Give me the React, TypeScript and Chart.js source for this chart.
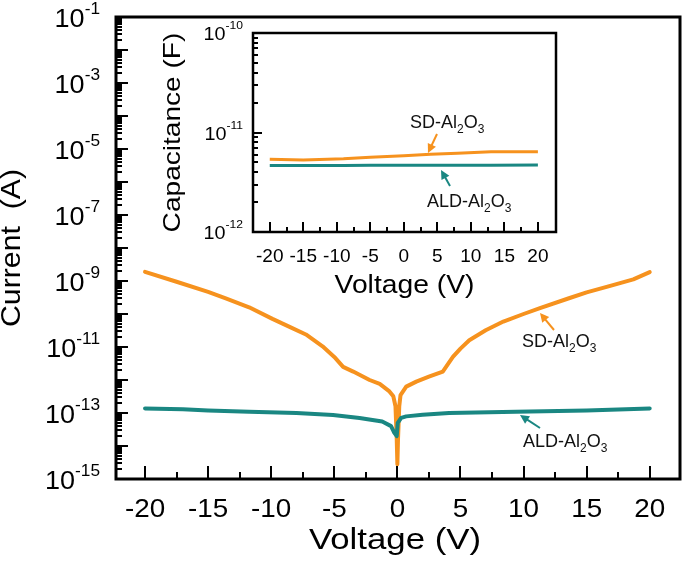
import React, { useEffect, useRef } from "react";
import { Chart, registerables } from "chart.js";

Chart.register(...registerables);

const ORANGE = "#F6921E";
const TEAL = "#1A8782";
const FONT = '"Liberation Sans", Arial, sans-serif';

// Main I–V data
const sdVoltage = [-20, -17.5, -15, -13.6, -11.75, -9.9, -8.5, -7.25, -5.93, -5, -4.3, -3.5, -2.2, -1.4, -0.63, -0.32, -0.15, -0.05, 0, 0.05, 0.15, 0.25, 0.7, 1.5, 2.5, 3.6, 4.4, 5.0, 5.7, 7, 8.4, 10, 11.3, 13.6, 15, 16.8, 18.7, 20];
const sdCurrent = [1.9e-9, 9.5e-10, 4.7e-10, 3.0e-10, 1.6e-10, 7.1e-11, 4.0e-11, 2.4e-11, 1.05e-11, 5.0e-12, 2.5e-12, 1.8e-12, 1.0e-12, 7.6e-13, 4.5e-13, 3.2e-13, 1.6e-13, 1.6e-14, 2.8e-15, 1.6e-14, 1.6e-13, 3.5e-13, 6.3e-13, 8.9e-13, 1.26e-12, 1.8e-12, 5.0e-12, 8.9e-12, 1.6e-11, 3.2e-11, 5.9e-11, 1.0e-10, 1.5e-10, 3.0e-10, 4.5e-10, 7.0e-10, 1.12e-9, 1.86e-9];
const aldVoltage = [-20, -17, -15, -11.75, -8, -5.1, -3, -1.2, -0.5, -0.24, -0.05, 0.03, 0.3, 0.7, 2, 4.1, 9.4, 15, 20];
const aldCurrent = [1.38e-13, 1.3e-13, 1.2e-13, 1.1e-13, 1.0e-13, 8.7e-14, 7.1e-14, 5.5e-14, 4.0e-14, 2.5e-14, 2.0e-14, 5.0e-14, 7.1e-14, 7.9e-14, 8.9e-14, 1.0e-13, 1.1e-13, 1.2e-13, 1.38e-13];

// Inset C–V data
const capVoltage = [-20, -15, -9, -5, 0, 4, 8, 13, 20];
const sdCap = [5.38e-12, 5.3e-12, 5.46e-12, 5.65e-12, 5.85e-12, 6.04e-12, 6.2e-12, 6.41e-12, 6.41e-12];
const aldCap = [4.66e-12, 4.66e-12, 4.67e-12, 4.68e-12, 4.68e-12, 4.69e-12, 4.7e-12, 4.7e-12, 4.71e-12];

const voltageTicks = [-20, -15, -10, -5, 0, 5, 10, 15, 20];
const currentLabelExp = [-15, -13, -11, -9, -7, -5, -3, -1];
const capLabelExp = [-12, -11, -10];

function txt(ctx: CanvasRenderingContext2D, s: string, x: number, y: number, size: number, align: string, stretch = 1) {
  ctx.save();
  ctx.font = `${size}px ${FONT}`;
  ctx.textBaseline = "alphabetic";
  ctx.textAlign = "left";
  const w = ctx.measureText(s).width * stretch;
  const x0 = align === "left" ? x : align === "center" ? x - w / 2 : x - w;
  ctx.translate(x0, y);
  ctx.scale(stretch, 1);
  ctx.fillText(s, 0, 0);
  ctx.restore();
  return w;
}

function width(ctx: CanvasRenderingContext2D, s: string, size: number, stretch = 1) {
  ctx.save();
  ctx.font = `${size}px ${FONT}`;
  const w = ctx.measureText(s).width * stretch;
  ctx.restore();
  return w;
}

function pow10(ctx: CanvasRenderingContext2D, exp: number, xRight: number, yTick: number, base: number, sup: number, baseDy: number, supRaise: number, stretch: number) {
  const s = String(exp);
  const ws = width(ctx, s, sup, stretch);
  const wb = width(ctx, "10", base, stretch);
  const bl = yTick + baseDy;
  txt(ctx, "10", xRight - ws - wb, bl, base, "left", stretch);
  txt(ctx, s, xRight - ws, bl - supRaise, sup, "left", stretch);
}

function rotTxt(ctx: CanvasRenderingContext2D, s: string, xBase: number, yCenter: number, size: number, stretch: number) {
  ctx.save();
  ctx.translate(xBase, yCenter);
  ctx.rotate(-Math.PI / 2);
  txt(ctx, s, 0, 0, size, "center", stretch);
  ctx.restore();
}

function chem(ctx: CanvasRenderingContext2D, prefix: string, x: number, bl: number, size: number, sub: number) {
  let cx = x;
  cx += txt(ctx, prefix + "Al", cx, bl, size, "left");
  cx += txt(ctx, "2", cx, bl + 5, sub, "left");
  cx += txt(ctx, "O", cx, bl, size, "left");
  txt(ctx, "3", cx, bl + 5, sub, "left");
}

function arrow(ctx: CanvasRenderingContext2D, x1: number, y1: number, x2: number, y2: number, color: string) {
  const ang = Math.atan2(y2 - y1, x2 - x1);
  const hl = 9, hw = 4.5;
  ctx.save();
  ctx.strokeStyle = color;
  ctx.fillStyle = color;
  ctx.lineWidth = 2;
  ctx.beginPath();
  ctx.moveTo(x1, y1);
  ctx.lineTo(x2 - hl * 0.8 * Math.cos(ang), y2 - hl * 0.8 * Math.sin(ang));
  ctx.stroke();
  ctx.beginPath();
  ctx.moveTo(x2, y2);
  ctx.lineTo(x2 - hl * Math.cos(ang) + hw * Math.sin(ang), y2 - hl * Math.sin(ang) - hw * Math.cos(ang));
  ctx.lineTo(x2 - hl * Math.cos(ang) - hw * Math.sin(ang), y2 - hl * Math.sin(ang) + hw * Math.cos(ang));
  ctx.closePath();
  ctx.fill();
  ctx.restore();
}

function drawFrame(chart: any, o: { lw: number; tw: number; yMaj: number; yMin: number; xMaj: number; xMin: number; expLo: number; expHi: number }) {
  const ctx: CanvasRenderingContext2D = chart.ctx;
  const { left, right, top, bottom } = chart.chartArea;
  const xs = chart.scales.x;
  const ys = chart.scales.y;
  ctx.save();
  ctx.strokeStyle = "#000";
  ctx.lineWidth = o.tw;
  ctx.beginPath();
  for (let e = o.expLo; e <= o.expHi; e++) {
    const y = Math.round(ys.getPixelForValue(Math.pow(10, e)));
    ctx.moveTo(left, y);
    ctx.lineTo(left + o.yMaj, y);
    if (e < o.expHi) {
      for (let m = 2; m <= 9; m++) {
        const ym = Math.round(ys.getPixelForValue(m * Math.pow(10, e)));
        ctx.moveTo(left, ym);
        ctx.lineTo(left + o.yMin, ym);
      }
    }
  }
  voltageTicks.forEach((v) => {
    const x = Math.round(xs.getPixelForValue(v));
    ctx.moveTo(x, bottom);
    ctx.lineTo(x, bottom - o.xMaj);
    if (v < 20) {
      const xm = Math.round(xs.getPixelForValue(v + 2.5));
      ctx.moveTo(xm, bottom);
      ctx.lineTo(xm, bottom - o.xMin);
    }
  });
  ctx.stroke();
  ctx.lineWidth = o.lw;
  ctx.strokeRect(left, top, right - left, bottom - top);
  ctx.restore();
}

const mainDecor = {
  id: "mainDecor",
  afterDraw(chart: any) {
    const ctx: CanvasRenderingContext2D = chart.ctx;
    const xs = chart.scales.x;
    const ys = chart.scales.y;
    const { left, right, bottom } = chart.chartArea;
    drawFrame(chart, { lw: 3, tw: 2, yMaj: 12, yMin: 6, xMaj: 13, xMin: 7, expLo: -15, expHi: -1 });
    ctx.save();
    ctx.fillStyle = "#000";
    currentLabelExp.forEach((e) => {
      pow10(ctx, e, 100, ys.getPixelForValue(Math.pow(10, e)), 25, 16, 10, 13, 1.08);
    });
    voltageTicks.forEach((v) => {
      txt(ctx, String(v), xs.getPixelForValue(v), bottom + 38, 26, "center", 1.07);
    });
    txt(ctx, "Voltage (V)", (left + right) / 2 - 3, bottom + 70, 29, "center", 1.2);
    rotTxt(ctx, "Current  (A)", 20, (chart.chartArea.top + bottom) / 2, 28, 1.08);
    ctx.fillStyle = "#111";
    chem(ctx, "SD-", 522, 347, 18, 12);
    chem(ctx, "ALD-", 523, 447, 18, 12);
    ctx.restore();
    arrow(ctx, 554, 330, 540, 313, ORANGE);
    arrow(ctx, 540, 428, 520, 415, TEAL);
  },
};

const insetDecor = {
  id: "insetDecor",
  afterDraw(chart: any) {
    const ctx: CanvasRenderingContext2D = chart.ctx;
    const xs = chart.scales.x;
    const ys = chart.scales.y;
    const { left, right, bottom, top } = chart.chartArea;
    drawFrame(chart, { lw: 2.5, tw: 2, yMaj: 9, yMin: 5, xMaj: 10, xMin: 5, expLo: -12, expHi: -10 });
    ctx.save();
    ctx.fillStyle = "#000";
    capLabelExp.forEach((e) => {
      pow10(ctx, e, 243, ys.getPixelForValue(Math.pow(10, e)), 18, 11, 7, 11, 1.1);
    });
    voltageTicks.forEach((v) => {
      txt(ctx, String(v), xs.getPixelForValue(v), bottom + 30, 19, "center", 1.0);
    });
    txt(ctx, "Voltage (V)", (left + right) / 2, bottom + 61, 25, "center", 1.13);
    rotTxt(ctx, "Capacitance (F)", 180, (top + bottom) / 2, 24, 1.17);
    ctx.fillStyle = "#111";
    chem(ctx, "SD-", 410, 128, 18, 12);
    chem(ctx, "ALD-", 427, 207, 18, 12);
    ctx.restore();
    arrow(ctx, 437, 134, 428, 153, ORANGE);
    arrow(ctx, 450, 186, 441, 170, TEAL);
  },
};

function series(xs: number[], ys: number[]) {
  return xs.map((x, i) => ({ x, y: ys[i] }));
}

export default function App() {
  const mainRef = useRef<HTMLCanvasElement>(null);
  const insetRef = useRef<HTMLCanvasElement>(null);

  useEffect(() => {
    const main = new Chart(mainRef.current as HTMLCanvasElement, {
      type: "line",
      data: {
        datasets: [
          { data: series(aldVoltage, aldCurrent), borderColor: TEAL, borderWidth: 4, pointRadius: 0, tension: 0, borderJoinStyle: "round", borderCapStyle: "round" },
          { data: series(sdVoltage, sdCurrent), borderColor: ORANGE, borderWidth: 4, pointRadius: 0, tension: 0, borderJoinStyle: "round", borderCapStyle: "round" },
        ],
      },
      options: {
        responsive: false,
        animation: false,
        devicePixelRatio: 1,
        layout: { padding: { left: 116, right: 5, top: 17, bottom: 92 } },
        scales: {
          x: { type: "linear", min: -22.3, max: 22.4, display: false },
          y: { type: "logarithmic", min: 1e-15, max: 1e-1, display: false },
        },
        plugins: { legend: { display: false }, tooltip: { enabled: false } },
      },
      plugins: [mainDecor],
    } as any);

    const inset = new Chart(insetRef.current as HTMLCanvasElement, {
      type: "line",
      data: {
        datasets: [
          { data: series(capVoltage, aldCap), borderColor: TEAL, borderWidth: 3, pointRadius: 0, tension: 0 },
          { data: series(capVoltage, sdCap), borderColor: ORANGE, borderWidth: 3, pointRadius: 0, tension: 0 },
        ],
      },
      options: {
        responsive: false,
        animation: false,
        devicePixelRatio: 1,
        layout: { padding: { left: 253, right: 129, top: 33, bottom: 339 } },
        scales: {
          x: { type: "linear", min: -22.5, max: 22.7, display: false },
          y: { type: "logarithmic", min: 1e-12, max: 1e-10, display: false },
        },
        plugins: { legend: { display: false }, tooltip: { enabled: false } },
      },
      plugins: [insetDecor],
    } as any);

    return () => {
      main.destroy();
      inset.destroy();
    };
  }, []);

  return (
    <div style={{ position: "absolute", left: 0, top: 0, width: 685, height: 571, background: "#fff" }}>
      <canvas ref={mainRef} width={685} height={571} style={{ position: "absolute", left: 0, top: 0 }} />
      <canvas ref={insetRef} width={685} height={571} style={{ position: "absolute", left: 0, top: 0 }} />
    </div>
  );
}
